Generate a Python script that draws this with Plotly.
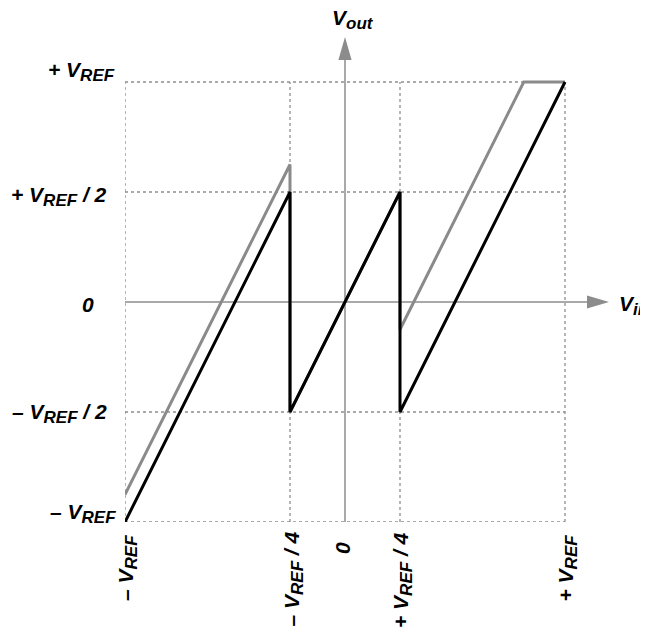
import plotly.graph_objects as go

# Data (in units of V_REF)
black_x = [-1.0, -0.25, -0.25, 0.25, 0.25, 1.0]
black_y = [-1.0, 0.5, -0.5, 0.5, -0.5, 1.0]
gray_x = [-1.0, -0.25, -0.25, 0.25, 0.25, 0.8125, 1.0]
gray_y = [-0.875, 0.625, -0.5, 0.5, -0.125, 1.0, 1.0]

grid_x = [-1.0, -0.25, 0.25, 1.0]
grid_y = [-1.0, -0.5, 0.5, 1.0]

SUB = '<sub><span style="font-size:17px">{}</span></sub>'
REF = SUB.format("REF")
x_tick_vals = [-1.0, -0.25, 0.0, 0.25, 1.0]
x_tick_text = ["– V" + REF, "– V" + REF + " / 4", "0",
               "+ V" + REF + " / 4", "+ V" + REF]
y_tick_vals = [1.0, 0.5, 0.0, -0.5, -1.0]
y_tick_text = ["+ V" + REF, "+ V" + REF + " / 2", "0",
               "– V" + REF + " / 2", "– V" + REF]

FONT = "Liberation Sans, Arial, sans-serif"
AX = "#8c8c8c"
FS = 21

fig = go.Figure()
fig.add_trace(go.Scatter(x=gray_x, y=gray_y, mode="lines",
                         line=dict(color="#8a8a8a", width=3), hoverinfo="skip"))
fig.add_trace(go.Scatter(x=black_x, y=black_y, mode="lines",
                         line=dict(color="#000000", width=3), hoverinfo="skip"))

shapes = []
for gx in grid_x:
    shapes.append(dict(type="line", xref="x", yref="y", x0=gx, x1=gx, y0=-1, y1=1,
                       line=dict(color="#8f8f8f", width=1.3, dash="3px,3px"), layer="below"))
for gy in grid_y:
    shapes.append(dict(type="line", xref="x", yref="y", y0=gy, y1=gy, x0=-1, x1=1,
                       line=dict(color="#8f8f8f", width=1.3, dash="3px,3px"), layer="below"))
# axes
shapes.append(dict(type="line", xref="x", yref="y", x0=-1, x1=1.12, y0=0, y1=0,
                   line=dict(color=AX, width=1.5), layer="below"))
shapes.append(dict(type="line", xref="x", yref="y", x0=0, x1=0, y0=-1, y1=1.12,
                   line=dict(color=AX, width=1.5), layer="below"))
# arrowheads
shapes.append(dict(type="path", xref="x", yref="y",
                   path="M 1.1,0.03 L 1.2,0 L 1.1,-0.03 Z",
                   fillcolor=AX, line=dict(color=AX, width=0)))
shapes.append(dict(type="path", xref="x", yref="y",
                   path="M -0.03,1.1 L 0,1.205 L 0.03,1.1 Z",
                   fillcolor=AX, line=dict(color=AX, width=0)))

annotations = []
yl_xshift = [-8, -16, -29, -16, -7]
yl_yshift = [11, -4, -2, -1, 9]
for v, t, xs, ys in zip(y_tick_vals, y_tick_text, yl_xshift, yl_yshift):
    annotations.append(dict(x=-1, y=v, xref="x", yref="y", text="<b><i>" + t + "</i></b>",
                            showarrow=False, xanchor="right", yanchor="middle",
                            xshift=xs, yshift=ys,
                            font=dict(family=FONT, size=FS, color="black")))
xl_xshift = [2, 3, -3, 2, 2]
xl_yshift = [-11, -8, -18, -8, -11]
for v, t, xs, ys in zip(x_tick_vals, x_tick_text, xl_xshift, xl_yshift):
    annotations.append(dict(x=v, y=-1, xref="x", yref="y", text="<b><i>" + t + "</i></b>",
                            showarrow=False, xanchor="center", yanchor="top", textangle=-90,
                            xshift=xs, yshift=ys,
                            font=dict(family=FONT, size=FS, color="black")))
annotations.append(dict(x=0, y=1.205, xref="x", yref="y",
                        text="<b><i>V" + SUB.format("out") + "</i></b>",
                        showarrow=False, xanchor="center", yanchor="bottom", xshift=8, yshift=2,
                        font=dict(family=FONT, size=FS, color="black")))
annotations.append(dict(x=1.2, y=0, xref="x", yref="y",
                        text="<b><i>V" + SUB.format("in") + "</i></b>",
                        showarrow=False, xanchor="left", yanchor="middle", xshift=8, yshift=-3,
                        font=dict(family=FONT, size=FS, color="black")))

fig.update_layout(
    width=648, height=632,
    margin=dict(l=117, r=25, t=8, b=118),
    paper_bgcolor="white", plot_bgcolor="white",
    showlegend=False,
    xaxis=dict(range=[-1, 1.3], showgrid=False, zeroline=False, showticklabels=False,
               showline=False, ticks="", fixedrange=True),
    yaxis=dict(range=[-1, 1.3], showgrid=False, zeroline=False, showticklabels=False,
               showline=False, ticks="", fixedrange=True),
    shapes=shapes, annotations=annotations,
)
fig.write_html("out.html", config=dict(displayModeBar=False))
